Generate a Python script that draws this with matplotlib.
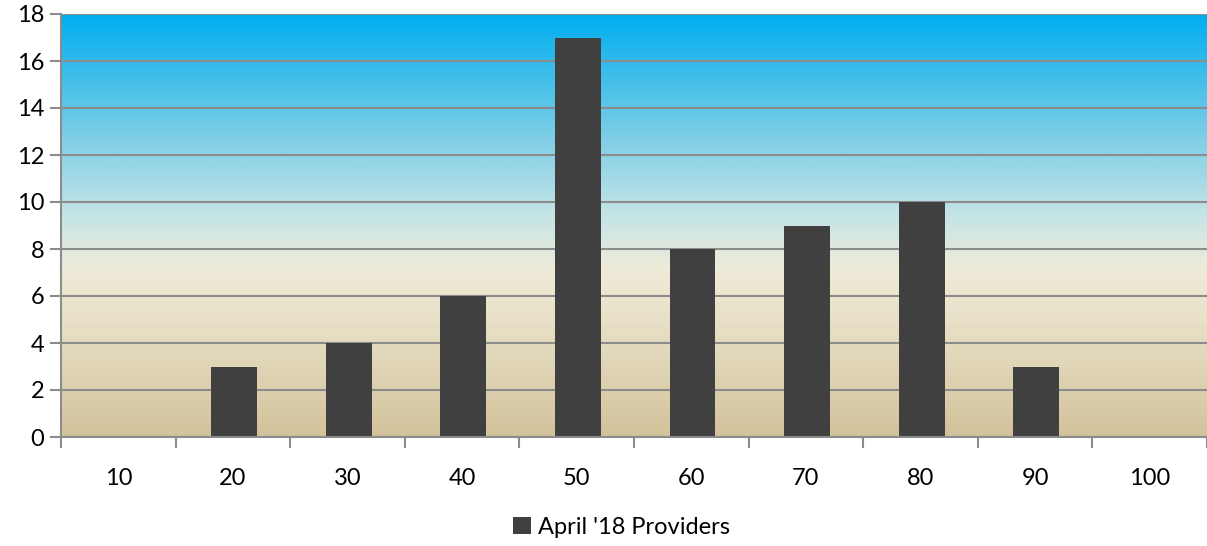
import numpy as np
import matplotlib
matplotlib.use("Agg")
import matplotlib.pyplot as plt
from matplotlib.colors import LinearSegmentedColormap
from matplotlib.patches import Patch

categories = ["10", "20", "30", "40", "50", "60", "70", "80", "90", "100"]
values = [0, 3, 4, 6, 17, 8, 9, 10, 3, 0]
series_name = "April '18 Providers"

plt.rcParams['font.family'] = ['Lato', 'DejaVu Sans']

fig = plt.figure(figsize=(12.07, 5.46), dpi=100)
ax = fig.add_axes([61/1207, 1 - 437/546, 1 - 61/1207, (437 - 14)/546])

x = np.arange(len(categories))
ymax = 18

cmap = LinearSegmentedColormap.from_list("bg", [
    (0.0, "#D3C39C"),
    (0.30, "#EAE3CB"),
    (0.40, "#EFEBDA"),
    (0.52, "#C6E5E6"),
    (0.70, "#82CFE6"),
    (1.0, "#00AEEF"),
])
grad = np.linspace(0, 1, 256).reshape(-1, 1)
ax.imshow(grad, cmap=cmap, origin="lower", aspect="auto",
          extent=[-0.5, len(categories) - 0.5, 0, ymax], zorder=0)

ax.bar(x + 0.01, values, width=0.4, color="#404040", zorder=3)

ax.set_xlim(-0.5, len(categories) - 0.5)
ax.set_ylim(0, ymax)
ax.set_yticks(np.arange(0, ymax + 1, 2))
ax.yaxis.grid(True, color="#8C8C8C", linewidth=1.5, zorder=1)
for gl in ax.get_ygridlines():
    gl.set_zorder(1)

ax.set_xticks(np.arange(-0.5, len(categories), 1.0))
ax.set_xticklabels([])
ax.set_xticks(x, minor=True)
ax.set_xticklabels(categories, minor=True)
ax.tick_params(axis="x", which="major", length=8, width=1.5, color="#8C8C8C")
ax.tick_params(axis="x", which="minor", length=0, pad=22, labelsize=17)
ax.tick_params(axis="y", length=8, width=1.5, color="#8C8C8C", labelsize=17, pad=4)

for s in ["top", "right"]:
    ax.spines[s].set_visible(False)
for s in ["left", "bottom"]:
    ax.spines[s].set_color("#8C8C8C")
    ax.spines[s].set_linewidth(1.5)
    ax.spines[s].set_zorder(4)

handle = Patch(facecolor="#404040", label=series_name)
fig.legend(handles=[handle], loc="center", bbox_to_anchor=(0.515, 1 - 527/546),
           frameon=False, fontsize=17, handlelength=0.75, handleheight=0.75,
           handletextpad=0.3)

fig.savefig("out.png", dpi=100)
